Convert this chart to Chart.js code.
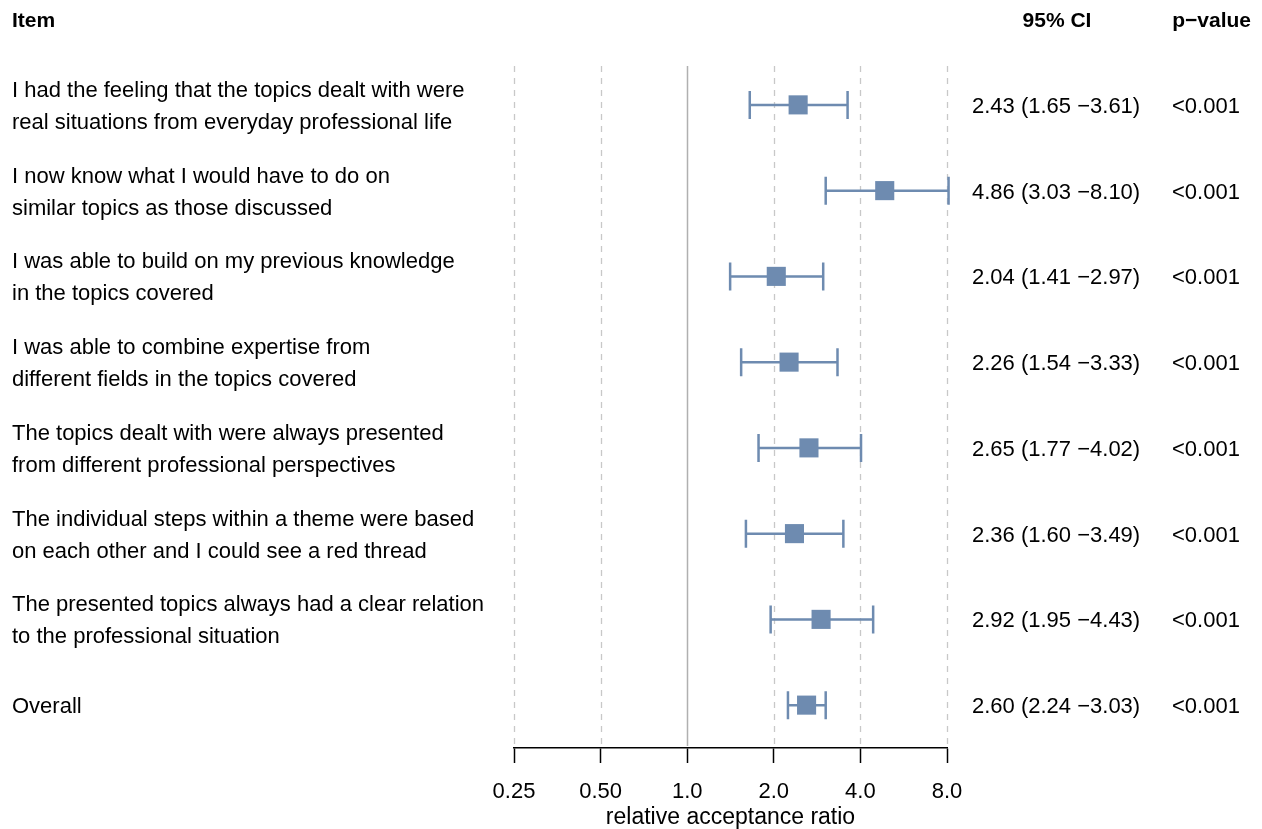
<!DOCTYPE html>
<html>
<head>
<meta charset="utf-8">
<script src="https://cdn.jsdelivr.net/npm/chart.js@4"></script>
<style>
  body { margin: 0; background: #fff; }
  #wrap { width: 1262px; height: 829px; }
</style>
</head>
<body>
<div id="wrap"><canvas id="forest" width="1262" height="829"></canvas></div>
<script>
// items (two lines each) and their estimates
const items = [
    ['I had the feeling that the topics dealt with were', 'real situations from everyday professional life'],
    ['I now know what I would have to do on', 'similar topics as those discussed'],
    ['I was able to build on my previous knowledge', 'in the topics covered'],
    ['I was able to combine expertise from', 'different fields in the topics covered'],
    ['The topics dealt with were always presented', 'from different professional perspectives'],
    ['The individual steps within a theme were based', 'on each other and I could see a red thread'],
    ['The presented topics always had a clear relation', 'to the professional situation'],
    ['Overall']
];
const ratio = [2.43, 4.86, 2.04, 2.26, 2.65, 2.36, 2.92, 2.60];
const lower = [1.65, 3.03, 1.41, 1.54, 1.77, 1.60, 1.95, 2.24];
const upper = [3.61, 8.10, 2.97, 3.33, 4.02, 3.49, 4.43, 3.03];
const pValues = ['<0.001', '<0.001', '<0.001', '<0.001', '<0.001', '<0.001', '<0.001', '<0.001'];
const tickVals = [0.25, 0.5, 1, 2, 4, 8];
const tickLabels = ['0.25', '0.50', '1.0', '2.0', '4.0', '8.0'];

const blue = 'rgb(110,139,176)';
const FONT = '"Liberation Sans", Arial, sans-serif';

// gridlines + error bars under the squares
const forestPlugin = {
    id: 'forest',
    beforeDatasetsDraw(chart) {
        const ctx = chart.ctx;
        const x = chart.scales.x, y = chart.scales.y;
        const area = chart.chartArea;
        ctx.save();
        tickVals.forEach(v => {
            const px = Math.round(x.getPixelForValue(v)) + 0.5;
            ctx.beginPath();
            if (v === 1) {
                ctx.setLineDash([]);
                ctx.strokeStyle = '#b0b0b0';
                ctx.lineWidth = 1.5;
            } else {
                ctx.setLineDash([6, 6]);
                ctx.strokeStyle = '#c8c8c8';
                ctx.lineWidth = 1.3;
            }
            ctx.moveTo(px, area.top + 4);
            ctx.lineTo(px, area.bottom - 2);
            ctx.stroke();
        });
        ctx.setLineDash([]);
        ctx.strokeStyle = blue;
        ctx.lineWidth = 2.5;
        ratio.forEach((r, i) => {
            const py = y.getPixelForValue(i);
            const x0 = x.getPixelForValue(lower[i]);
            const x1 = x.getPixelForValue(upper[i]);
            ctx.beginPath();
            ctx.moveTo(x0, py); ctx.lineTo(x1, py);
            ctx.moveTo(x0, py - 14); ctx.lineTo(x0, py + 14);
            ctx.moveTo(x1, py - 14); ctx.lineTo(x1, py + 14);
            ctx.stroke();
        });
        ctx.restore();
    },
    afterDraw(chart) {
        const ctx = chart.ctx;
        const y = chart.scales.y;
        ctx.save();
        ctx.fillStyle = '#000';
        ctx.textBaseline = 'middle';
        ctx.font = 'bold 21px ' + FONT;
        ctx.textAlign = 'left';
        ctx.fillText('Item', 12, 21);
        ctx.textAlign = 'center';
        ctx.fillText('95% CI', 1057, 21);
        ctx.textAlign = 'right';
        ctx.fillText('p\u2212value', 1251, 21);

        ctx.font = '22px ' + FONT;
        ctx.textAlign = 'left';
        items.forEach((lines, i) => {
            const py = y.getPixelForValue(i) + 2;
            if (lines.length === 1) {
                ctx.fillText(lines[0], 12, py);
            } else {
                ctx.fillText(lines[0], 12, py - 16);
                ctx.fillText(lines[1], 12, py + 16);
            }
            const ci = ratio[i].toFixed(2) + ' (' + lower[i].toFixed(2) + ' \u2212' + upper[i].toFixed(2) + ')';
            ctx.fillText(ci, 972, py);
            ctx.fillText(pValues[i], 1172, py);
        });
        ctx.restore();
    }
};

const ctx = document.getElementById('forest').getContext('2d');
const chart = new Chart(ctx, {
    type: 'scatter',
    data: {
        datasets: [{
            label: 'ratio',
            data: ratio.map((r, i) => ({ x: r, y: i })),
            backgroundColor: blue,
            borderColor: blue,
            borderWidth: 0,
            pointStyle: 'rect',
            pointRadius: 13.5,
            pointHoverRadius: 13.5
        }]
    },
    options: {
        responsive: false,
        animation: false,
        layout: { padding: { left: 514, right: 315, top: 62, bottom: 0 } },
        plugins: {
            legend: { display: false },
            tooltip: { enabled: false }
        },
        scales: {
            x: {
                type: 'logarithmic',
                min: 0.25,
                max: 8,
                afterBuildTicks: s => { s.ticks = tickVals.map(v => ({ value: v })); },
                afterFit: s => { s.height = 81; },
                ticks: {
                    autoSkip: false,
                    maxRotation: 0,
                    color: '#000',
                    padding: 16,
                    font: { size: 22, family: FONT },
                    callback: (v, i) => tickLabels[i]
                },
                grid: {
                    drawOnChartArea: false,
                    drawTicks: true,
                    tickLength: 15,
                    tickColor: '#000',
                    tickWidth: 1.5
                },
                border: { display: true, color: '#000', width: 1.5 },
                title: {
                    display: true,
                    text: 'relative acceptance ratio',
                    color: '#000',
                    font: { size: 23, family: FONT, lineHeight: 1 },
                    padding: { top: 0, bottom: 0 }
                }
            },
            y: {
                type: 'linear',
                min: -0.5,
                max: 7.5,
                reverse: true,
                display: false
            }
        }
    },
    plugins: [forestPlugin]
});
</script>
</body>
</html>
